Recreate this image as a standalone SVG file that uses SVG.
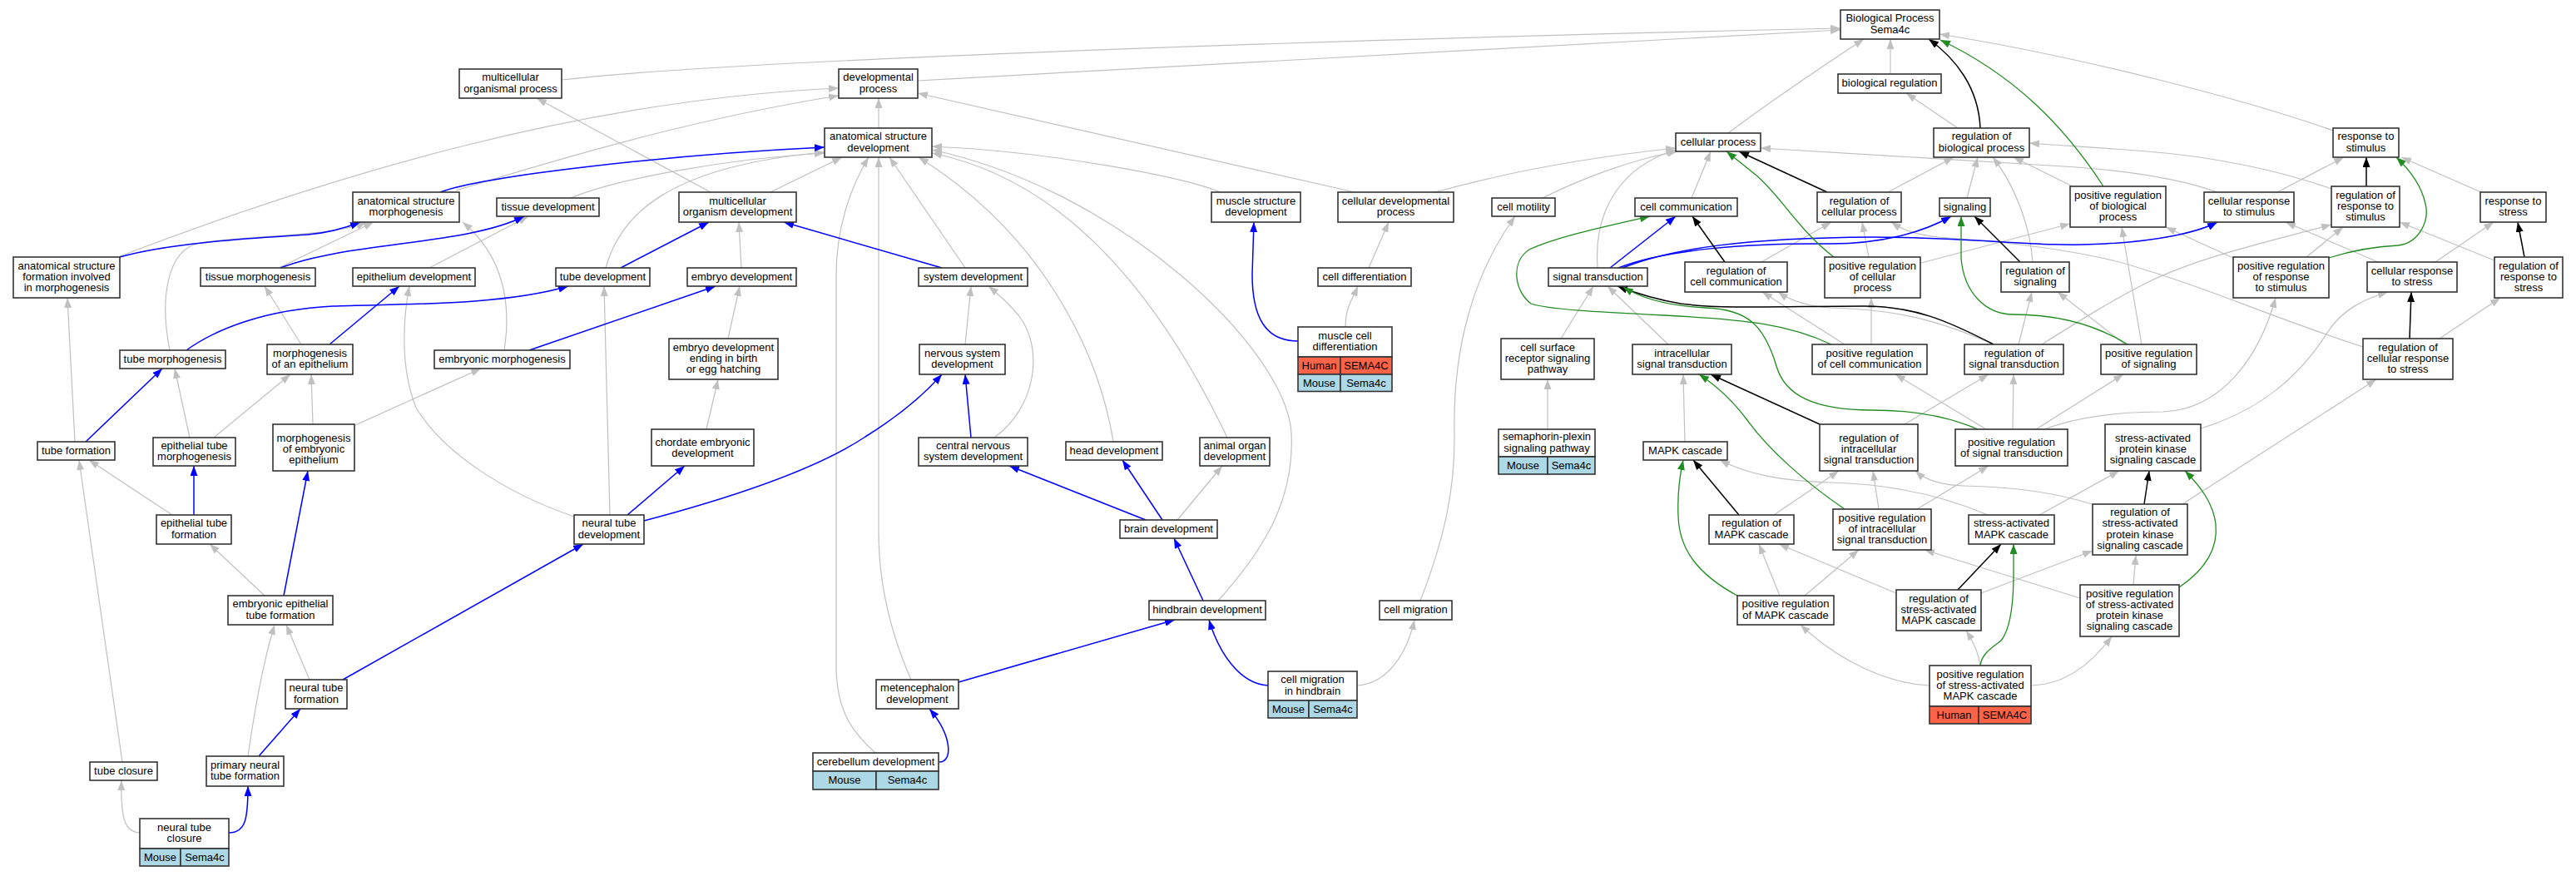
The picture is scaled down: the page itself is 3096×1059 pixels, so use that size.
<svg xmlns="http://www.w3.org/2000/svg" width="3096" height="1059" viewBox="0 0 3096 1059">
<defs>
<marker id="ag" viewBox="0 0 12 9" refX="12" refY="4.5" markerWidth="12" markerHeight="9" markerUnits="userSpaceOnUse" orient="auto"><path d="M0,0L12,4.5L0,9z" fill="#C0C0C0"/></marker>
<marker id="ab" viewBox="0 0 12 9" refX="12" refY="4.5" markerWidth="12" markerHeight="9" markerUnits="userSpaceOnUse" orient="auto"><path d="M0,0L12,4.5L0,9z" fill="#0000FF"/></marker>
<marker id="ak" viewBox="0 0 12 9" refX="12" refY="4.5" markerWidth="12" markerHeight="9" markerUnits="userSpaceOnUse" orient="auto"><path d="M0,0L12,4.5L0,9z" fill="#000000"/></marker>
<marker id="an" viewBox="0 0 12 9" refX="12" refY="4.5" markerWidth="12" markerHeight="9" markerUnits="userSpaceOnUse" orient="auto"><path d="M0,0L12,4.5L0,9z" fill="#228B22"/></marker>
</defs>
<style>
.n rect{fill:#fff;stroke:#333;stroke-width:1.6}
.n rect.hu{fill:#FF6347}
.n rect.mo{fill:#ADD8E6}
text{font-family:"Liberation Sans",Arial,sans-serif;font-size:13px;text-anchor:middle;fill:#000}
#edges path{fill:none}
.eg{stroke:#C0C0C0;stroke-width:1.2;marker-end:url(#ag)}
.eb{stroke:#0000FF;stroke-width:1.5;marker-end:url(#ab)}
.ek{stroke:#000;stroke-width:1.5;marker-end:url(#ak)}
.en{stroke:#228B22;stroke-width:1.3;marker-end:url(#an)}
</style>
<rect width="3096" height="1059" fill="#fff"/>
<g id="edges">
<path class="eg" d="M675,96 C900,70 1700,45 2212,34"/>
<path class="eg" d="M1103,97 C1500,74 1900,52 2212,36"/>
<path class="eg" d="M2077,160 C2130,120 2190,80 2240,47"/>
<path class="eg" d="M2272,89 L2272,47"/>
<path class="eg" d="M2804,157 C2700,120 2500,68 2331,41"/>
<path class="eg" d="M2353,154 L2291,112"/>
<path class="eg" d="M1056,154 L1056,118"/>
<path class="eg" d="M1628,231 L1103,112"/>
<path class="eg" d="M144,308 C400,210 700,120 1008,106"/>
<path class="eg" d="M548,229 C700,182 850,140 1008,115"/>
<path class="eg" d="M686,238 C740,215 880,190 991,184"/>
<path class="eg" d="M728,322 C745,260 800,200 991,183"/>
<path class="eg" d="M926,231 L1012,189"/>
<path class="eg" d="M1052,905 C1030,885 1005,860 1005,800 L1005,330 C1005,270 1025,220 1044,189"/>
<path class="eg" d="M1095,817 C1070,760 1056,700 1056,640 L1056,189"/>
<path class="eg" d="M1160,322 L1069,189"/>
<path class="eg" d="M1338,531 C1320,420 1250,280 1104,189"/>
<path class="eg" d="M1475,526 C1410,390 1300,220 1120,184"/>
<path class="eg" d="M1464,722 C1520,660 1556,600 1552,520 C1545,420 1350,230 1120,180"/>
<path class="eg" d="M1467,231 C1420,212 1260,182 1120,176"/>
<path class="eg" d="M854,231 L645,118"/>
<path class="eg" d="M891,322 L888,267"/>
<path class="eg" d="M516,322 L635,260"/>
<path class="eg" d="M335,322 L449,267"/>
<path class="eg" d="M204,421 C192,360 200,300 240,292 C300,282 400,285 440,267"/>
<path class="eg" d="M606,421 C614,370 608,310 556,267"/>
<path class="eg" d="M362,414 L318,344"/>
<path class="eg" d="M690,621 C600,590 530,540 500,490 C480,440 485,380 492,344"/>
<path class="eg" d="M257,526 L349,450"/>
<path class="eg" d="M228,526 L210,443"/>
<path class="eg" d="M376,510 L374,450"/>
<path class="eg" d="M427,511 L578,443"/>
<path class="eg" d="M90,531 L81,358"/>
<path class="eg" d="M875,407 L889,344"/>
<path class="eg" d="M849,516 L863,456"/>
<path class="eg" d="M733,619 L726,344"/>
<path class="eg" d="M1160,414 L1167,344"/>
<path class="eg" d="M1195,526 C1245,490 1255,420 1225,380 C1210,362 1198,352 1188,344"/>
<path class="eg" d="M1415,625 L1469,560"/>
<path class="eg" d="M1631,824 C1665,822 1690,790 1700,745"/>
<path class="eg" d="M1707,722 C1735,650 1749,590 1748,520 C1746,420 1770,330 1821,260"/>
<path class="eg" d="M1854,238 C1900,215 1960,192 2016,182"/>
<path class="eg" d="M1725,231 C1800,210 1900,190 2014,178"/>
<path class="eg" d="M1645,322 L1669,267"/>
<path class="eg" d="M1617,393 C1617,370 1625,360 1632,344"/>
<path class="eg" d="M1920,322 C1915,250 1950,200 2014,180"/>
<path class="eg" d="M2033,238 L2056,182"/>
<path class="eg" d="M2117,315 L2201,267"/>
<path class="eg" d="M2269,231 L2348,189"/>
<path class="eg" d="M2364,238 L2377,189"/>
<path class="eg" d="M2443,315 C2440,270 2420,220 2395,189"/>
<path class="eg" d="M2491,224 L2420,189"/>
<path class="eg" d="M2246,309 L2238,267"/>
<path class="eg" d="M2309,316 L2488,269"/>
<path class="eg" d="M2574,414 L2550,273"/>
<path class="eg" d="M2554,414 L2473,351"/>
<path class="eg" d="M2426,414 L2442,351"/>
<path class="eg" d="M2396,414 C2330,385 2280,372 2200,370 C2170,368 2150,360 2137,351"/>
<path class="eg" d="M2217,414 L2118,351"/>
<path class="eg" d="M2249,414 L2249,358"/>
<path class="eg" d="M2419,516 L2420,450"/>
<path class="eg" d="M2447,516 L2552,450"/>
<path class="eg" d="M2387,516 L2278,450"/>
<path class="eg" d="M2457,516 C2500,500 2550,495 2600,495 C2670,492 2715,430 2735,358"/>
<path class="eg" d="M2289,510 L2390,450"/>
<path class="eg" d="M2005,414 L1932,344"/>
<path class="eg" d="M1876,407 L1915,344"/>
<path class="eg" d="M1860,516 L1860,456"/>
<path class="eg" d="M2025,531 L2023,450"/>
<path class="eg" d="M2132,619 L2210,566"/>
<path class="eg" d="M2139,716 L2114,654"/>
<path class="eg" d="M2169,716 L2234,661"/>
<path class="eg" d="M2258,612 L2251,566"/>
<path class="eg" d="M2304,612 L2390,560"/>
<path class="eg" d="M2389,619 C2340,598 2280,582 2200,580 C2140,578 2100,570 2067,553"/>
<path class="eg" d="M2451,619 L2547,566"/>
<path class="eg" d="M2514,606 C2470,592 2420,585 2360,584 C2330,583 2312,575 2302,566"/>
<path class="eg" d="M2279,713 L2138,654"/>
<path class="eg" d="M2381,713 L2515,662"/>
<path class="eg" d="M2564,703 L2567,667"/>
<path class="eg" d="M2500,719 L2313,661"/>
<path class="eg" d="M2380,800 C2378,785 2372,772 2363,758"/>
<path class="eg" d="M2319,824 C2270,822 2210,795 2164,751"/>
<path class="eg" d="M2442,824 C2480,823 2512,800 2538,765"/>
<path class="eg" d="M2645,515 C2720,492 2765,450 2797,400 C2815,372 2840,360 2870,351"/>
<path class="eg" d="M2623,606 L2856,456"/>
<path class="eg" d="M2840,417 C2740,385 2650,345 2580,325 C2510,300 2400,290 2330,285 C2300,282 2285,275 2273,267"/>
<path class="eg" d="M2454,414 C2500,385 2540,360 2580,340 C2640,310 2720,292 2802,270"/>
<path class="eg" d="M2684,310 L2603,273"/>
<path class="eg" d="M2772,309 L2816,273"/>
<path class="eg" d="M2802,227 C2740,205 2660,188 2580,182 C2530,178 2480,175 2439,172"/>
<path class="eg" d="M2737,231 L2817,189"/>
<path class="eg" d="M2665,231 C2620,215 2560,205 2480,200 C2350,193 2250,185 2116,178"/>
<path class="eg" d="M2858,315 L2747,267"/>
<path class="eg" d="M2927,315 L2997,267"/>
<path class="eg" d="M2982,231 L2886,189"/>
<path class="eg" d="M2998,313 L2884,267"/>
<path class="eg" d="M2932,407 L3005,358"/>
<path class="eg" d="M207,619 L107,553"/>
<path class="eg" d="M318,716 L252,654"/>
<path class="eg" d="M372,817 L344,751"/>
<path class="eg" d="M298,909 C305,860 315,800 330,751"/>
<path class="eg" d="M147,916 L95,553"/>
<path class="eg" d="M168,1001 C150,1000 145,985 146,938"/>
<path class="eb" d="M529,231 C580,212 800,186 991,177"/>
<path class="eb" d="M746,322 L852,267"/>
<path class="eb" d="M1132,322 L942,267"/>
<path class="eb" d="M337,322 C420,290 560,295 630,260"/>
<path class="eb" d="M144,309 C210,290 330,285 370,282 C395,280 415,274 433,267"/>
<path class="eb" d="M224,421 C260,395 320,372 400,368 C480,365 600,368 683,344"/>
<path class="eb" d="M396,414 L480,344"/>
<path class="eb" d="M103,531 L195,443"/>
<path class="eb" d="M636,421 L860,344"/>
<path class="eb" d="M754,619 L823,560"/>
<path class="eb" d="M774,626 C880,598 980,565 1040,525 C1080,500 1110,475 1132,450"/>
<path class="eb" d="M1167,526 L1160,450"/>
<path class="eb" d="M1377,625 L1213,560"/>
<path class="eb" d="M1397,625 L1349,553"/>
<path class="eb" d="M1446,722 L1411,647"/>
<path class="eb" d="M1152,820 L1412,745"/>
<path class="eb" d="M1524,824 C1490,822 1465,785 1453,745"/>
<path class="eb" d="M1129,916 C1145,916 1145,885 1117,852"/>
<path class="eb" d="M1560,410 C1520,410 1505,380 1505,330 L1507,267"/>
<path class="eb" d="M1935,322 L2014,260"/>
<path class="eb" d="M1945,322 C2000,300 2100,292 2200,293 C2260,293 2310,280 2345,260"/>
<path class="eb" d="M1950,322 C2010,298 2100,286 2250,285 C2380,285 2450,298 2530,293 C2590,290 2640,280 2665,267"/>
<path class="eb" d="M233,619 L233,560"/>
<path class="eb" d="M341,716 L370,566"/>
<path class="eb" d="M412,817 L701,654"/>
<path class="eb" d="M311,909 L361,852"/>
<path class="eb" d="M275,1001 C295,1001 298,985 298,945"/>
<path class="ek" d="M2380,154 C2378,105 2350,70 2318,47"/>
<path class="ek" d="M2073,315 L2034,260"/>
<path class="ek" d="M2196,231 L2090,182"/>
<path class="ek" d="M2428,315 L2373,260"/>
<path class="ek" d="M2396,414 C2340,385 2300,368 2240,368 C2150,368 2070,372 2020,365 C1990,360 1965,352 1944,344"/>
<path class="ek" d="M2187,510 L2056,450"/>
<path class="ek" d="M2090,619 L2035,553"/>
<path class="ek" d="M2577,606 L2583,566"/>
<path class="ek" d="M2353,709 L2405,654"/>
<path class="ek" d="M2844,224 L2844,189"/>
<path class="ek" d="M3034,309 L3026,267"/>
<path class="ek" d="M2896,407 L2898,351"/>
<path class="en" d="M2528,224 C2480,150 2420,90 2332,48"/>
<path class="en" d="M2204,309 C2160,275 2140,235 2110,210 C2095,198 2085,190 2075,182"/>
<path class="en" d="M2557,414 C2510,385 2460,378 2420,378 C2385,378 2360,350 2357,310 L2357,260"/>
<path class="en" d="M2201,414 C2150,390 2100,384 2000,379 C1920,375 1860,372 1840,365 C1820,350 1815,315 1838,300 C1870,285 1930,272 1983,260"/>
<path class="en" d="M2377,516 C2340,500 2300,493 2250,493 C2180,493 2145,475 2135,440 C2120,390 2100,372 2050,370 C2010,368 1975,360 1951,345"/>
<path class="en" d="M2217,612 C2170,580 2125,540 2100,505 C2085,485 2065,465 2042,450"/>
<path class="en" d="M2088,716 C2040,690 2018,660 2017,620 C2016,595 2018,575 2023,553"/>
<path class="en" d="M2619,706 C2650,685 2666,660 2663,630 C2660,605 2645,585 2626,566"/>
<path class="en" d="M2380,800 C2382,785 2395,778 2405,770 C2417,755 2420,720 2420,690 L2420,654"/>
<path class="en" d="M2799,310 C2830,300 2860,296 2882,295 C2908,292 2920,265 2915,245 C2910,222 2897,205 2880,189"/>
</g>
<g id="n-bp" class="n"><rect x="2212" y="12" width="119" height="35"/><text x="2271.5" y="26.4">Biological Process</text><text x="2271.5" y="39.6">Sema4c</text></g>
<g id="n-mop" class="n"><rect x="552" y="83" width="123" height="35"/><text x="613.5" y="97.4">multicellular</text><text x="613.5" y="110.6">organismal process</text></g>
<g id="n-dp" class="n"><rect x="1008" y="83" width="95" height="35"/><text x="1055.5" y="97.4">developmental</text><text x="1055.5" y="110.6">process</text></g>
<g id="n-breg" class="n"><rect x="2209" y="89" width="124" height="23"/><text x="2271" y="104">biological regulation</text></g>
<g id="n-asd" class="n"><rect x="991" y="154" width="129" height="35"/><text x="1055.5" y="168.4">anatomical structure</text><text x="1055.5" y="181.6">development</text></g>
<g id="n-cp" class="n"><rect x="2014" y="160" width="102" height="22"/><text x="2065" y="174.5">cellular process</text></g>
<g id="n-rbp" class="n"><rect x="2324" y="154" width="115" height="35"/><text x="2381.5" y="168.4">regulation of</text><text x="2381.5" y="181.6">biological process</text></g>
<g id="n-rs" class="n"><rect x="2804" y="154" width="79" height="35"/><text x="2843.5" y="168.4">response to</text><text x="2843.5" y="181.6">stimulus</text></g>
<g id="n-asm" class="n"><rect x="424" y="231" width="128" height="36"/><text x="488" y="245.9">anatomical structure</text><text x="488" y="259.1">morphogenesis</text></g>
<g id="n-td" class="n"><rect x="597" y="238" width="123" height="22"/><text x="658.5" y="252.5">tissue development</text></g>
<g id="n-mod" class="n"><rect x="816" y="231" width="141" height="36"/><text x="886.5" y="245.9">multicellular</text><text x="886.5" y="259.1">organism development</text></g>
<g id="n-msd" class="n"><rect x="1456" y="231" width="107" height="36"/><text x="1509.5" y="245.9">muscle structure</text><text x="1509.5" y="259.1">development</text></g>
<g id="n-cdp" class="n"><rect x="1608" y="231" width="139" height="36"/><text x="1677.5" y="245.9">cellular developmental</text><text x="1677.5" y="259.1">process</text></g>
<g id="n-cmot" class="n"><rect x="1793" y="238" width="76" height="22"/><text x="1831" y="252.5">cell motility</text></g>
<g id="n-cc" class="n"><rect x="1965" y="238" width="123" height="22"/><text x="2026.5" y="252.5">cell communication</text></g>
<g id="n-rcp" class="n"><rect x="2184" y="231" width="101" height="36"/><text x="2234.5" y="245.9">regulation of</text><text x="2234.5" y="259.1">cellular process</text></g>
<g id="n-sig" class="n"><rect x="2331" y="238" width="61" height="22"/><text x="2361.5" y="252.5">signaling</text></g>
<g id="n-prbp" class="n"><rect x="2488" y="224" width="115" height="49"/><text x="2545.5" y="238.8">positive regulation</text><text x="2545.5" y="252">of biological</text><text x="2545.5" y="265.2">process</text></g>
<g id="n-crs" class="n"><rect x="2649" y="231" width="108" height="36"/><text x="2703" y="245.9">cellular response</text><text x="2703" y="259.1">to stimulus</text></g>
<g id="n-rrs" class="n"><rect x="2802" y="224" width="82" height="49"/><text x="2843" y="238.8">regulation of</text><text x="2843" y="252">response to</text><text x="2843" y="265.2">stimulus</text></g>
<g id="n-rstress" class="n"><rect x="2981" y="231" width="79" height="36"/><text x="3020.5" y="245.9">response to</text><text x="3020.5" y="259.1">stress</text></g>
<g id="n-asf" class="n"><rect x="16" y="309" width="128" height="49"/><text x="80" y="323.8">anatomical structure</text><text x="80" y="337">formation involved</text><text x="80" y="350.2">in morphogenesis</text></g>
<g id="n-tm" class="n"><rect x="241" y="322" width="138" height="22"/><text x="310" y="336.5">tissue morphogenesis</text></g>
<g id="n-ed" class="n"><rect x="424" y="322" width="147" height="22"/><text x="497.5" y="336.5">epithelium development</text></g>
<g id="n-tdev" class="n"><rect x="668" y="322" width="113" height="22"/><text x="724.5" y="336.5">tube development</text></g>
<g id="n-embd" class="n"><rect x="826" y="322" width="131" height="22"/><text x="891.5" y="336.5">embryo development</text></g>
<g id="n-sd" class="n"><rect x="1104" y="322" width="131" height="22"/><text x="1169.5" y="336.5">system development</text></g>
<g id="n-cdiff" class="n"><rect x="1584" y="322" width="112" height="22"/><text x="1640" y="336.5">cell differentiation</text></g>
<g id="n-st" class="n"><rect x="1861" y="322" width="119" height="22"/><text x="1920.5" y="336.5">signal transduction</text></g>
<g id="n-rcc" class="n"><rect x="2025" y="315" width="123" height="36"/><text x="2086.5" y="329.9">regulation of</text><text x="2086.5" y="343.1">cell communication</text></g>
<g id="n-prcp" class="n"><rect x="2193" y="309" width="115" height="49"/><text x="2250.5" y="323.8">positive regulation</text><text x="2250.5" y="337">of cellular</text><text x="2250.5" y="350.2">process</text></g>
<g id="n-rsig" class="n"><rect x="2405" y="315" width="82" height="36"/><text x="2446" y="329.9">regulation of</text><text x="2446" y="343.1">signaling</text></g>
<g id="n-prrs" class="n"><rect x="2684" y="309" width="115" height="49"/><text x="2741.5" y="323.8">positive regulation</text><text x="2741.5" y="337">of response</text><text x="2741.5" y="350.2">to stimulus</text></g>
<g id="n-crstress" class="n"><rect x="2845" y="315" width="108" height="36"/><text x="2899" y="329.9">cellular response</text><text x="2899" y="343.1">to stress</text></g>
<g id="n-rrstress" class="n"><rect x="2998" y="309" width="82" height="49"/><text x="3039" y="323.8">regulation of</text><text x="3039" y="337">response to</text><text x="3039" y="350.2">stress</text></g>
<g id="n-tubem" class="n"><rect x="144" y="421" width="127" height="22"/><text x="207.5" y="435.5">tube morphogenesis</text></g>
<g id="n-moe" class="n"><rect x="321" y="414" width="103" height="36"/><text x="372.5" y="428.9">morphogenesis</text><text x="372.5" y="442.1">of an epithelium</text></g>
<g id="n-embm" class="n"><rect x="522" y="421" width="163" height="22"/><text x="603.5" y="435.5">embryonic morphogenesis</text></g>
<g id="n-edeb" class="n"><rect x="804" y="407" width="131" height="49"/><text x="869.5" y="421.8">embryo development</text><text x="869.5" y="435">ending in birth</text><text x="869.5" y="448.2">or egg hatching</text></g>
<g id="n-nsd" class="n"><rect x="1105" y="414" width="103" height="36"/><text x="1156.5" y="428.9">nervous system</text><text x="1156.5" y="442.1">development</text></g>
<g id="n-mcd" class="n"><rect x="1560" y="393" width="113" height="36"/><rect class="hu" x="1560" y="429" width="51" height="21"/><rect class="hu" x="1611" y="429" width="62" height="21"/><rect class="mo" x="1560" y="450" width="51" height="20.5"/><rect class="mo" x="1611" y="450" width="62" height="20.5"/><text x="1616.5" y="407.9">muscle cell</text><text x="1616.5" y="421.1">differentiation</text><text x="1585.5" y="444">Human</text><text x="1642" y="444">SEMA4C</text><text x="1585.5" y="464.7">Mouse</text><text x="1642" y="464.7">Sema4c</text></g>
<g id="n-csrsp" class="n"><rect x="1804" y="407" width="112" height="49"/><text x="1860" y="421.8">cell surface</text><text x="1860" y="435">receptor signaling</text><text x="1860" y="448.2">pathway</text></g>
<g id="n-ist" class="n"><rect x="1962" y="414" width="119" height="36"/><text x="2021.5" y="428.9">intracellular</text><text x="2021.5" y="442.1">signal transduction</text></g>
<g id="n-prcc" class="n"><rect x="2178" y="414" width="138" height="36"/><text x="2247" y="428.9">positive regulation</text><text x="2247" y="442.1">of cell communication</text></g>
<g id="n-rst" class="n"><rect x="2361" y="414" width="119" height="36"/><text x="2420.5" y="428.9">regulation of</text><text x="2420.5" y="442.1">signal transduction</text></g>
<g id="n-prs" class="n"><rect x="2525" y="414" width="115" height="36"/><text x="2582.5" y="428.9">positive regulation</text><text x="2582.5" y="442.1">of signaling</text></g>
<g id="n-rcrs" class="n"><rect x="2840" y="407" width="108" height="49"/><text x="2894" y="421.8">regulation of</text><text x="2894" y="435">cellular response</text><text x="2894" y="448.2">to stress</text></g>
<g id="n-etm" class="n"><rect x="184" y="526" width="99" height="34"/><text x="233.5" y="539.9">epithelial tube</text><text x="233.5" y="553.1">morphogenesis</text></g>
<g id="n-mee" class="n"><rect x="328" y="510" width="98" height="56"/><text x="377" y="530.8">morphogenesis</text><text x="377" y="544">of embryonic</text><text x="377" y="557.2">epithelium</text></g>
<g id="n-ced" class="n"><rect x="783" y="516" width="123" height="44"/><text x="844.5" y="535.5">chordate embryonic</text><text x="844.5" y="548.7">development</text></g>
<g id="n-cnsd" class="n"><rect x="1104" y="526" width="131" height="34"/><text x="1169.5" y="539.9">central nervous</text><text x="1169.5" y="553.1">system development</text></g>
<g id="n-hd" class="n"><rect x="1281" y="531" width="116" height="22"/><text x="1339" y="545.5">head development</text></g>
<g id="n-aod" class="n"><rect x="1442" y="526" width="84" height="34"/><text x="1484" y="539.9">animal organ</text><text x="1484" y="553.1">development</text></g>
<g id="n-spsp" class="n"><rect x="1801" y="516" width="116" height="33"/><rect class="mo" x="1801" y="549" width="59" height="21"/><rect class="mo" x="1860" y="549" width="57" height="21"/><text x="1859" y="529.4">semaphorin-plexin</text><text x="1859" y="542.6">signaling pathway</text><text x="1830.5" y="563.5">Mouse</text><text x="1888.5" y="563.5">Sema4c</text></g>
<g id="n-mapk" class="n"><rect x="1975" y="531" width="101" height="22"/><text x="2025.5" y="545.5">MAPK cascade</text></g>
<g id="n-rist" class="n"><rect x="2187" y="510" width="118" height="56"/><text x="2246" y="530.8">regulation of</text><text x="2246" y="544">intracellular</text><text x="2246" y="557.2">signal transduction</text></g>
<g id="n-prst" class="n"><rect x="2350" y="516" width="135" height="44"/><text x="2417.5" y="535.5">positive regulation</text><text x="2417.5" y="548.7">of signal transduction</text></g>
<g id="n-sapk" class="n"><rect x="2530" y="510" width="115" height="56"/><text x="2587.5" y="530.8">stress-activated</text><text x="2587.5" y="544">protein kinase</text><text x="2587.5" y="557.2">signaling cascade</text></g>
<g id="n-tf" class="n"><rect x="45" y="531" width="93" height="22"/><text x="91.5" y="545.5">tube formation</text></g>
<g id="n-etf" class="n"><rect x="188" y="619" width="90" height="35"/><text x="233" y="633.4">epithelial tube</text><text x="233" y="646.6">formation</text></g>
<g id="n-ntd" class="n"><rect x="690" y="619" width="84" height="35"/><text x="732" y="633.4">neural tube</text><text x="732" y="646.6">development</text></g>
<g id="n-bd" class="n"><rect x="1346" y="625" width="117" height="22"/><text x="1404.5" y="639.5">brain development</text></g>
<g id="n-rmapk" class="n"><rect x="2054" y="619" width="102" height="35"/><text x="2105" y="633.4">regulation of</text><text x="2105" y="646.6">MAPK cascade</text></g>
<g id="n-prist" class="n"><rect x="2203" y="612" width="118" height="49"/><text x="2262" y="626.8">positive regulation</text><text x="2262" y="640">of intracellular</text><text x="2262" y="653.2">signal transduction</text></g>
<g id="n-samapk" class="n"><rect x="2366" y="619" width="103" height="35"/><text x="2417.5" y="633.4">stress-activated</text><text x="2417.5" y="646.6">MAPK cascade</text></g>
<g id="n-rsapk" class="n"><rect x="2515" y="606" width="114" height="61"/><text x="2572" y="620.2">regulation of</text><text x="2572" y="633.4">stress-activated</text><text x="2572" y="646.6">protein kinase</text><text x="2572" y="659.8">signaling cascade</text></g>
<g id="n-eetf" class="n"><rect x="274" y="716" width="126" height="35"/><text x="337" y="730.4">embryonic epithelial</text><text x="337" y="743.6">tube formation</text></g>
<g id="n-hbd" class="n"><rect x="1381" y="722" width="140" height="23"/><text x="1451" y="737">hindbrain development</text></g>
<g id="n-cmig" class="n"><rect x="1658" y="722" width="87" height="23"/><text x="1701.5" y="737">cell migration</text></g>
<g id="n-prmapk" class="n"><rect x="2088" y="716" width="116" height="35"/><text x="2146" y="730.4">positive regulation</text><text x="2146" y="743.6">of MAPK cascade</text></g>
<g id="n-rsamapk" class="n"><rect x="2279" y="709" width="102" height="49"/><text x="2330" y="723.8">regulation of</text><text x="2330" y="737">stress-activated</text><text x="2330" y="750.2">MAPK cascade</text></g>
<g id="n-prsapk" class="n"><rect x="2500" y="703" width="119" height="62"/><text x="2559.5" y="717.7">positive regulation</text><text x="2559.5" y="730.9">of stress-activated</text><text x="2559.5" y="744.1">protein kinase</text><text x="2559.5" y="757.3">signaling cascade</text></g>
<g id="n-cmh" class="n"><rect x="1524" y="807" width="107" height="35"/><rect class="mo" x="1524" y="842" width="49" height="21"/><rect class="mo" x="1573" y="842" width="58" height="21"/><text x="1577.5" y="821.4">cell migration</text><text x="1577.5" y="834.6">in hindbrain</text><text x="1548.5" y="856.5">Mouse</text><text x="1602" y="856.5">Sema4c</text></g>
<g id="n-ntf" class="n"><rect x="343" y="817" width="74" height="35"/><text x="380" y="831.4">neural tube</text><text x="380" y="844.6">formation</text></g>
<g id="n-metd" class="n"><rect x="1053" y="817" width="99" height="35"/><text x="1102.5" y="831.4">metencephalon</text><text x="1102.5" y="844.6">development</text></g>
<g id="n-prsamapk" class="n"><rect x="2319" y="800" width="122" height="49"/><rect class="hu" x="2319" y="849" width="59" height="21"/><rect class="hu" x="2378" y="849" width="63" height="21"/><text x="2380" y="814.8">positive regulation</text><text x="2380" y="828">of stress-activated</text><text x="2380" y="841.2">MAPK cascade</text><text x="2348.5" y="863.5">Human</text><text x="2409.5" y="863.5">SEMA4C</text></g>
<g id="n-cbd" class="n"><rect x="977" y="905" width="151" height="22"/><rect class="mo" x="977" y="927" width="76" height="22"/><rect class="mo" x="1053" y="927" width="75" height="22"/><text x="1052.5" y="919.5">cerebellum development</text><text x="1015" y="942">Mouse</text><text x="1090.5" y="942">Sema4c</text></g>
<g id="n-tc" class="n"><rect x="108" y="916" width="81" height="22"/><text x="148.5" y="930.5">tube closure</text></g>
<g id="n-pntf" class="n"><rect x="248" y="909" width="93" height="36"/><text x="294.5" y="923.9">primary neural</text><text x="294.5" y="937.1">tube formation</text></g>
<g id="n-ntc" class="n"><rect x="168" y="984" width="107" height="36"/><rect class="mo" x="168" y="1020" width="49" height="21"/><rect class="mo" x="217" y="1020" width="58" height="21"/><text x="221.5" y="998.9">neural tube</text><text x="221.5" y="1012.1">closure</text><text x="192.5" y="1034.5">Mouse</text><text x="246" y="1034.5">Sema4c</text></g>
</svg>
